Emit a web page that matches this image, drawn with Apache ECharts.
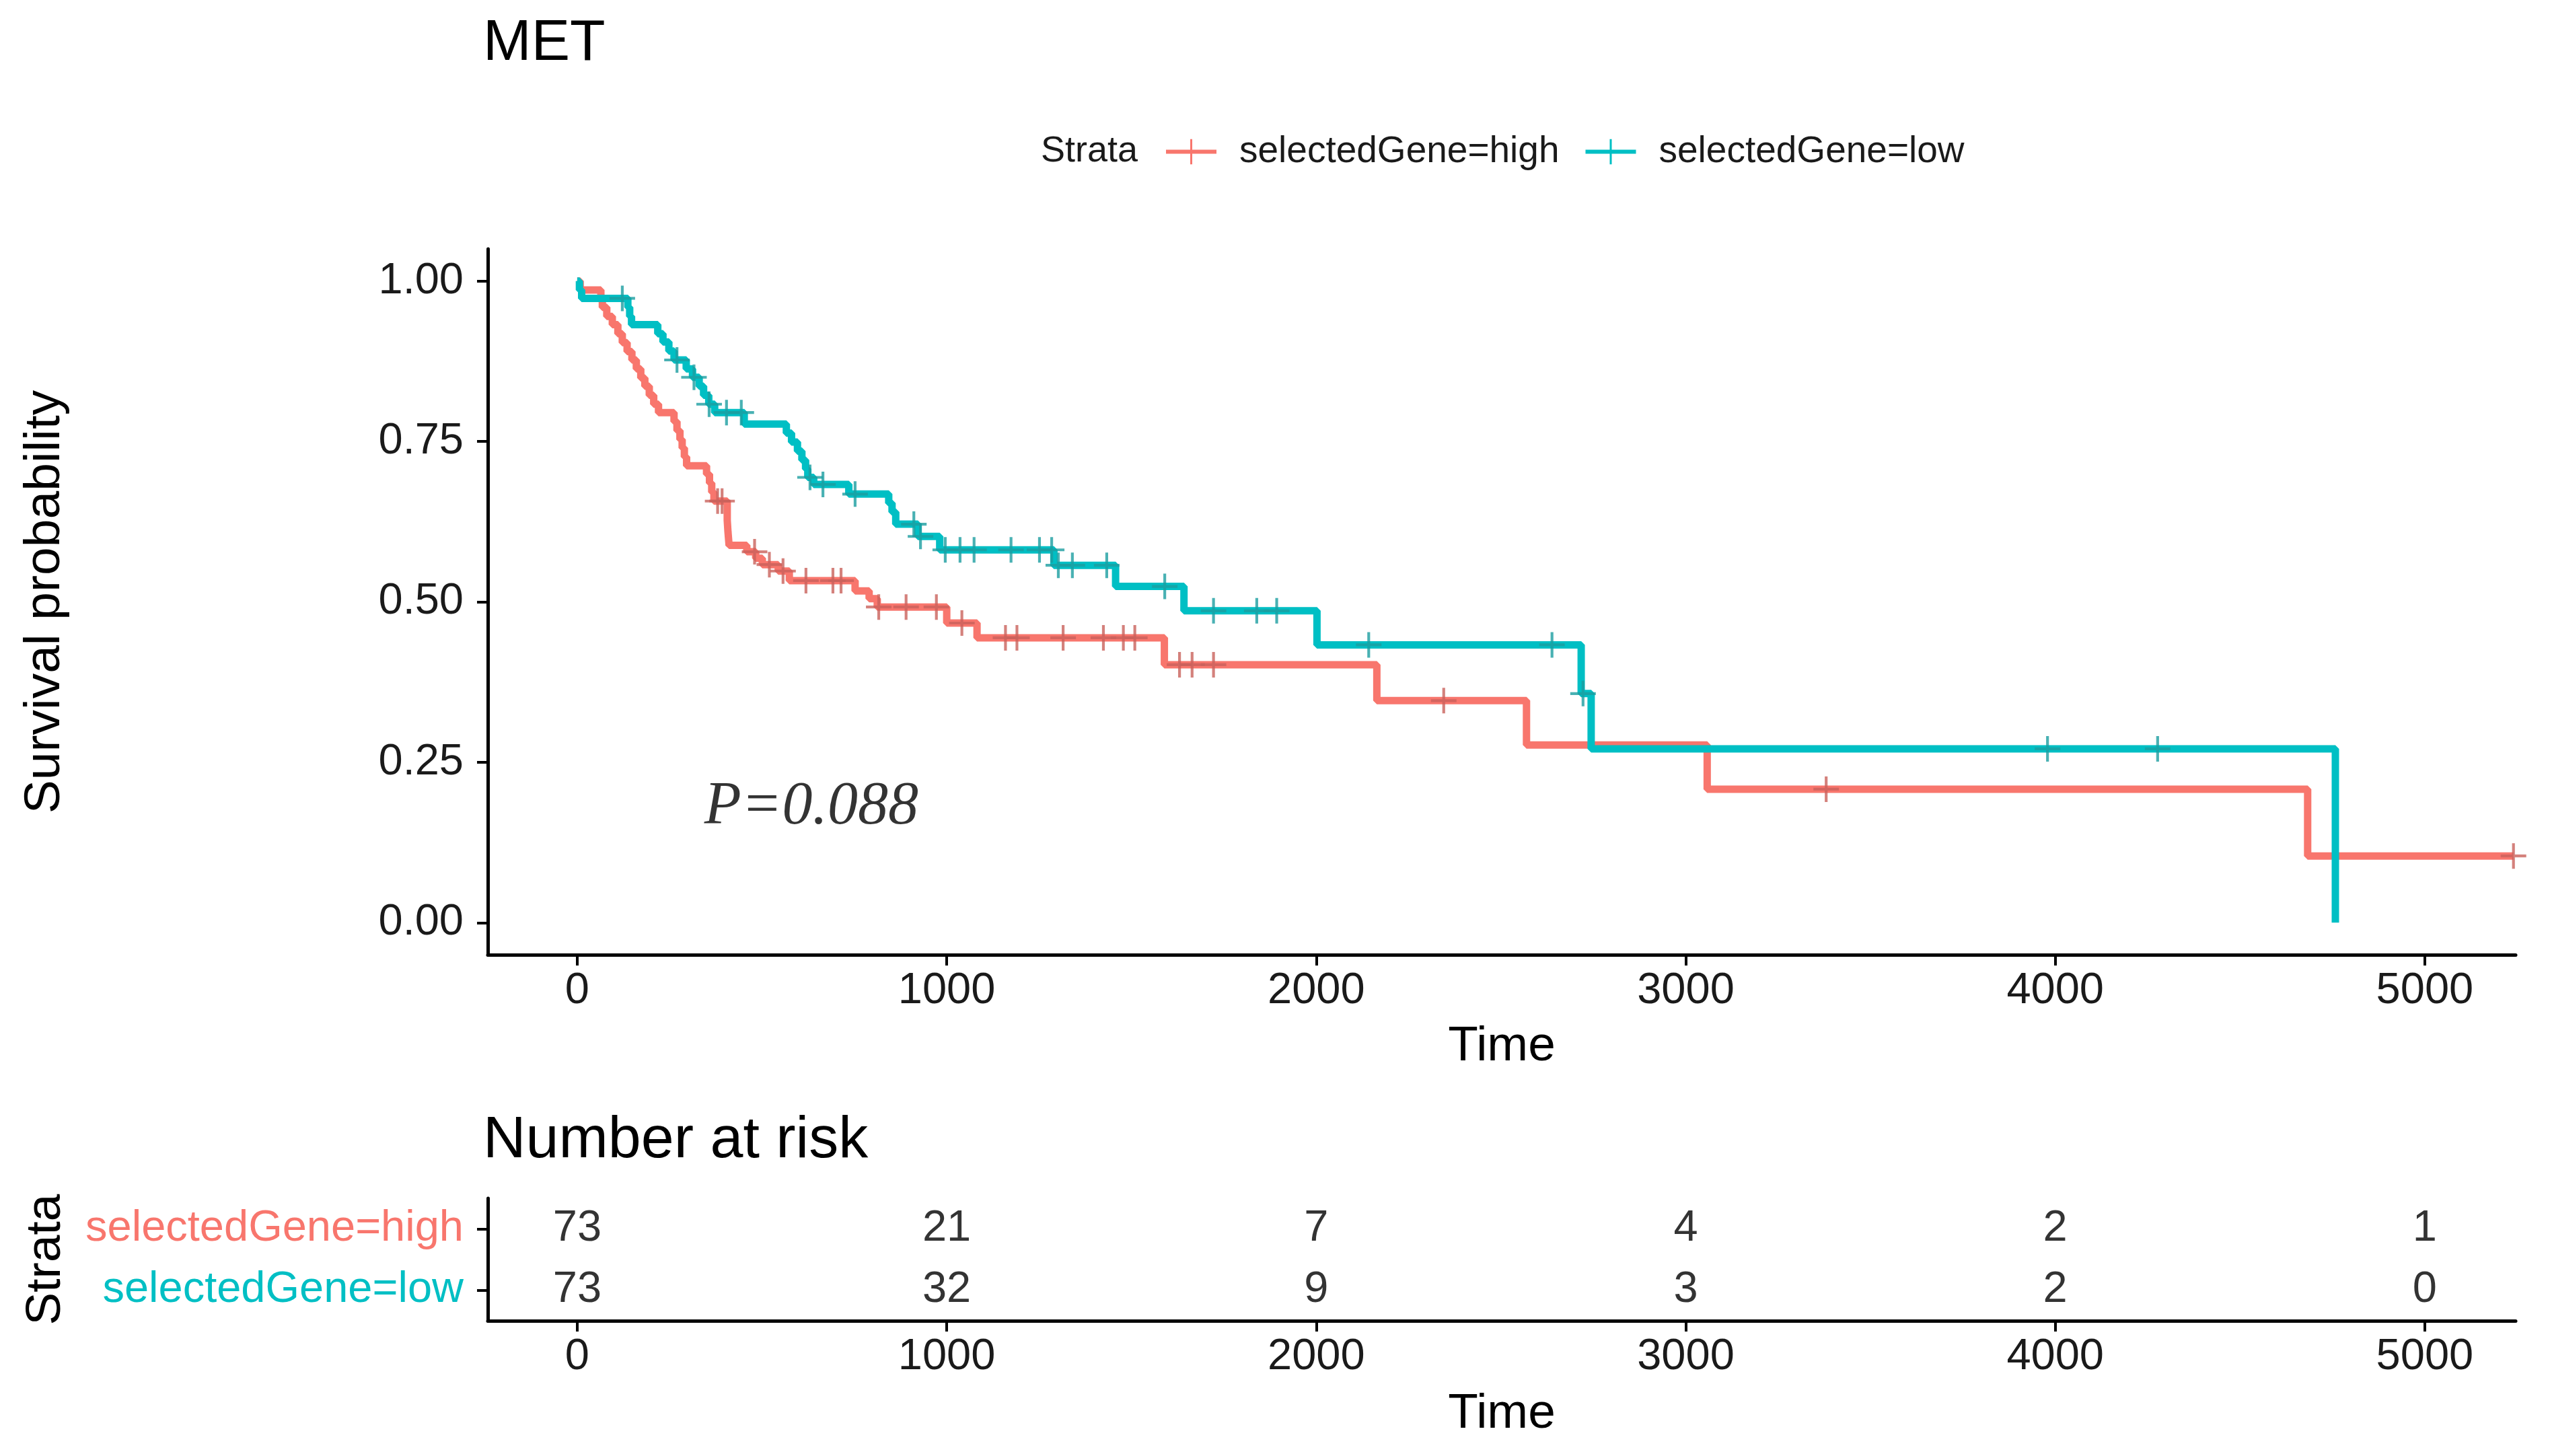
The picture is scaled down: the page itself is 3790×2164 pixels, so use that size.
<!DOCTYPE html>
<html>
<head>
<meta charset="utf-8">
<script src="https://cdn.jsdelivr.net/npm/echarts@6/dist/echarts.min.js"></script>
<style>html,body{margin:0;padding:0;background:#fff}#c{width:3790px;height:2164px}</style>
</head>
<body>
<div id="c"></div>
<script>
// ---------------- data ----------------
const chartTitle = 'MET';
const strata = ['selectedGene=high', 'selectedGene=low'];
const timeTicks = [0, 1000, 2000, 3000, 4000, 5000];
const survTicks = [0, 0.25, 0.5, 0.75, 1];

// Kaplan-Meier steps: time of event, survival after it
const highTimes = [0, 8, 64, 68, 80, 95, 110, 122, 135, 148, 160, 172, 183, 195, 207, 220, 262, 270, 278, 284, 290, 296, 350, 358, 364, 370, 406, 408, 411, 459, 483, 501, 544, 574, 752, 790, 812, 1000, 1082, 1589, 2164, 2569, 3058, 4683];
const highSurv  = [1, 0.986, 0.973, 0.959, 0.945, 0.932, 0.918, 0.904, 0.890, 0.877, 0.863, 0.849, 0.836, 0.822, 0.808, 0.795, 0.781, 0.767, 0.753, 0.740, 0.726, 0.712, 0.699, 0.685, 0.671, 0.657, 0.627, 0.609, 0.588, 0.578, 0.568, 0.558, 0.548, 0.533, 0.517, 0.505, 0.492, 0.467, 0.444, 0.402, 0.346, 0.277, 0.208, 0.104];
const highCensor = [380, 392, 480, 520, 557, 619, 692, 714, 816, 890, 972, 1041, 1159, 1190, 1315, 1424, 1478, 1509, 1630, 1664, 1722, 2345, 3380, 5240];

const lowTimes = [0, 6, 12, 137, 142, 147, 218, 232, 248, 262, 295, 312, 330, 342, 356, 372, 452, 566, 580, 596, 608, 618, 624, 640, 735, 843, 852, 862, 922, 981, 1290, 1457, 1642, 2002, 2717, 2744, 4758];
const lowSurv  = [1, 0.986, 0.973, 0.959, 0.945, 0.932, 0.918, 0.905, 0.891, 0.877, 0.863, 0.850, 0.836, 0.822, 0.808, 0.795, 0.777, 0.763, 0.749, 0.735, 0.721, 0.707, 0.694, 0.683, 0.668, 0.654, 0.640, 0.621, 0.602, 0.581, 0.557, 0.524, 0.486, 0.433, 0.357, 0.271, 0];
const lowCensor = [122, 270, 316, 357, 404, 444, 630, 665, 752, 911, 929, 996, 1036, 1074, 1174, 1251, 1284, 1302, 1340, 1433, 1590, 1722, 1839, 1893, 2142, 2638, 2722, 3979, 4277];

const riskHigh = [73, 21, 7, 4, 2, 1];
const riskLow  = [73, 32, 9, 3, 2, 0];
const pText = 'P=0.088';
const pPos = [344, 0.179];

// ---------------- helpers ----------------
const RED = '#F8766D', TEAL = '#00BFC4';
const RED_MARK = '#C9615B', TEAL_MARK = '#1C9EA0';
const FONT = 'Liberation Sans';
const TXT = '#1a1a1a';
const TICK_FS = 65;

function survAt(times, surv, t) {
  let s = 1;
  for (let i = 0; i < times.length; i++) if (times[i] <= t) s = surv[i];
  return s;
}
function curve(times, surv, censor) {
  const pts = times.map((t, i) => [t, surv[i]]);
  const lastT = Math.max(...censor);
  if (lastT > times[times.length - 1]) pts.push([lastT, surv[surv.length - 1]]);
  return pts;
}
const plusPath = 'path://M-1.1,-10 H1.1 V-1.1 H10 V1.1 H1.1 V10 H-1.1 V1.1 H-10 V-1.1 H-1.1 Z';
const legendIcon = 'path://M0,8.4 H40 V11.6 H0 Z M19.2,0 H20.8 V20 H19.2 Z';

const axisLine = { show: true, onZero: false, lineStyle: { color: '#000', width: 5 } };
const axisTick = { show: true, length: 16, lineStyle: { color: '#000', width: 4 } };
const fmtTime = v => String(Math.round(v));

const chart = echarts.init(document.getElementById('c'));
chart.setOption({
  backgroundColor: '#fff',
  animation: false,
  title: [
    { text: chartTitle, left: 718, top: 22, padding: 0, textStyle: { fontFamily: FONT, fontSize: 86, fontWeight: 'normal', color: '#000' } },
    { text: 'Number at risk', left: 718, top: 1652, padding: 0, textStyle: { fontFamily: FONT, fontSize: 88, fontWeight: 'normal', color: '#000' } },
    { text: 'Strata', left: 1547, top: 198, padding: 0, textStyle: { fontFamily: FONT, fontSize: 54, fontWeight: 'normal', color: TXT } }
  ],
  legend: {
    left: 1733, top: 198, padding: 0, itemGap: 39, itemWidth: 75, itemHeight: 38,
    data: [{ name: strata[0], icon: legendIcon }, { name: strata[1], icon: legendIcon }],
    textStyle: { fontFamily: FONT, fontSize: 55, color: TXT, padding: [0, 0, 0, 29] }
  },
  grid: [
    { left: 725, right: 51, top: 370, bottom: 745 },
    { left: 725, right: 51, top: 1781, bottom: 201 }
  ],
  xAxis: [
    {
      type: 'value', gridIndex: 0, min: -242, max: 5246,
      name: 'Time', nameLocation: 'middle', nameGap: 100,
      nameTextStyle: { fontFamily: FONT, fontSize: 73, color: '#000' },
      axisLine, axisTick: Object.assign({ customValues: timeTicks }, axisTick),
      axisLabel: { customValues: timeTicks, formatter: fmtTime, fontFamily: FONT, fontSize: TICK_FS, color: TXT, margin: 22 },
      splitLine: { show: false }
    },
    {
      type: 'value', gridIndex: 1, min: -242, max: 5246,
      name: 'Time', nameLocation: 'middle', nameGap: 102,
      nameTextStyle: { fontFamily: FONT, fontSize: 73, color: '#000' },
      axisLine, axisTick: Object.assign({ customValues: timeTicks }, axisTick),
      axisLabel: { customValues: timeTicks, formatter: fmtTime, fontFamily: FONT, fontSize: TICK_FS, color: TXT, margin: 22 },
      splitLine: { show: false }
    }
  ],
  yAxis: [
    {
      type: 'value', gridIndex: 0, min: -0.05, max: 1.05,
      name: 'Survival probability', nameLocation: 'middle', nameGap: 620,
      nameTextStyle: { fontFamily: FONT, fontSize: 75, color: '#000' },
      axisLine, axisTick: Object.assign({ customValues: survTicks }, axisTick),
      axisLabel: { customValues: survTicks, formatter: v => v.toFixed(2), fontFamily: FONT, fontSize: TICK_FS, color: TXT, margin: 36 },
      splitLine: { show: false }
    },
    {
      type: 'category', gridIndex: 1, data: strata, inverse: true,
      name: 'Strata', nameLocation: 'middle', nameGap: 620,
      nameTextStyle: { fontFamily: FONT, fontSize: 73, color: '#000' },
      axisLine, axisTick: { show: true, length: 16, alignWithLabel: true, lineStyle: { color: '#000', width: 4 } },
      axisLabel: { fontFamily: FONT, fontSize: TICK_FS, margin: 36, color: v => (v === strata[0] ? RED : TEAL) },
      splitLine: { show: false }
    }
  ],
  series: [
    {
      name: strata[0], type: 'line', step: 'end', xAxisIndex: 0, yAxisIndex: 0,
      data: curve(highTimes, highSurv, highCensor), showSymbol: false, symbol: 'none',
      lineStyle: { color: RED, width: 11 }, itemStyle: { color: RED }, z: 3
    },
    {
      name: strata[1], type: 'line', step: 'end', xAxisIndex: 0, yAxisIndex: 0,
      data: curve(lowTimes, lowSurv, lowCensor), showSymbol: false, symbol: 'none',
      lineStyle: { color: TEAL, width: 11 }, itemStyle: { color: TEAL }, z: 4
    },
    {
      name: strata[0] + ' censor', type: 'scatter', xAxisIndex: 0, yAxisIndex: 0,
      data: highCensor.map(t => [t, survAt(highTimes, highSurv, t)]),
      symbol: plusPath, symbolSize: 38, itemStyle: { color: RED_MARK }, z: 5, silent: true
    },
    {
      name: strata[1] + ' censor', type: 'scatter', xAxisIndex: 0, yAxisIndex: 0,
      data: lowCensor.map(t => [t, survAt(lowTimes, lowSurv, t)]),
      symbol: plusPath, symbolSize: 38, itemStyle: { color: TEAL_MARK }, z: 6, silent: true
    },
    {
      name: 'pvalue', type: 'scatter', xAxisIndex: 0, yAxisIndex: 0,
      data: [pPos], symbolSize: 0, silent: true,
      label: { show: true, formatter: pText, position: 'right', distance: 0,
        fontFamily: 'Liberation Serif', fontStyle: 'italic', fontSize: 90, color: '#000' }
    },
    {
      name: 'risk high', type: 'scatter', xAxisIndex: 1, yAxisIndex: 1,
      data: timeTicks.map((t, i) => [t, strata[0], riskHigh[i]]), symbolSize: 0, silent: true,
      label: { show: true, position: 'inside', formatter: p => String(p.value[2]), fontFamily: FONT, fontSize: TICK_FS, color: '#000' }
    },
    {
      name: 'risk low', type: 'scatter', xAxisIndex: 1, yAxisIndex: 1,
      data: timeTicks.map((t, i) => [t, strata[1], riskLow[i]]), symbolSize: 0, silent: true,
      label: { show: true, position: 'inside', formatter: p => String(p.value[2]), fontFamily: FONT, fontSize: TICK_FS, color: '#000' }
    }
  ]
});
</script>
</body>
</html>
